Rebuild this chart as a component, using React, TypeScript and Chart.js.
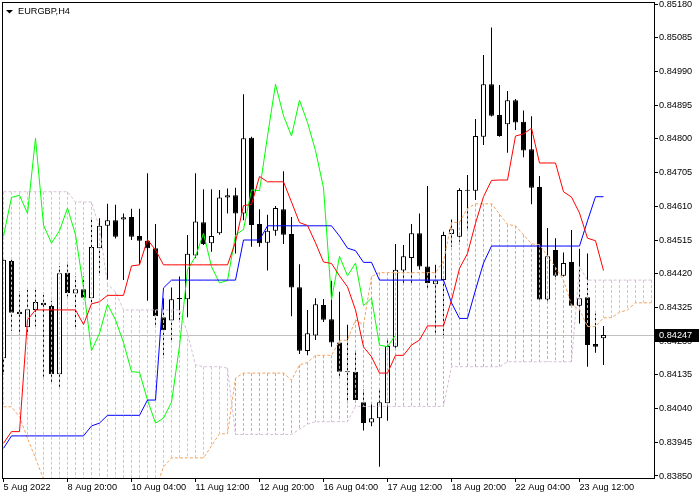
import React, { useEffect, useRef } from 'react';
import { Chart, registerables } from 'chart.js';

Chart.register(...registerables);

const symbolTitle = 'EURGBP,H4';
const timeLabels = ['5 Aug 2022', '8 Aug 20:00', '10 Aug 04:00', '11 Aug 12:00', '12 Aug 20:00', '16 Aug 04:00', '17 Aug 12:00', '18 Aug 20:00', '22 Aug 04:00', '23 Aug 12:00'];
const barsPerTimeLabel = 8;
const priceTicks = [0.8518, 0.85085, 0.8499, 0.84895, 0.848, 0.84705, 0.8461, 0.84515, 0.8442, 0.84325, 0.8423, 0.84135, 0.8404, 0.83945, 0.8385];
const lastPrice = 0.84247;

const opens = [
  0.84182, 0.84456, 0.84313, 0.84269, 0.84318, 0.84338, 0.84329, 0.84137, 0.84423, 0.84364,
  0.84376, 0.84351, 0.84492, 0.84555, 0.84571, 0.84573, 0.84580, 0.84526, 0.84513, 0.84492,
  0.84297, 0.84288, 0.84351, 0.84348, 0.84471, 0.84565, 0.84506, 0.84534, 0.84635, 0.84641,
  0.84590, 0.84803, 0.84560, 0.84507, 0.84541, 0.84602, 0.84532, 0.84382, 0.84202, 0.84246,
  0.84332, 0.84292, 0.84226, 0.84144, 0.84144, 0.84058, 0.84001, 0.84013, 0.84055, 0.84214,
  0.84429, 0.84464, 0.84534, 0.84440, 0.84390, 0.84402, 0.84532, 0.84524, 0.84655, 0.84654,
  0.84806, 0.84954, 0.84867, 0.84841, 0.84909, 0.84848, 0.84771, 0.84664, 0.84347, 0.84487,
  0.84414, 0.84453, 0.84330, 0.84354, 0.84222, 0.84238,
];
const highs = [
  0.84461, 0.84459, 0.84370, 0.84374, 0.84374, 0.84360, 0.84344, 0.84442, 0.84454, 0.84412,
  0.84412, 0.84576, 0.84576, 0.84617, 0.84614, 0.84590, 0.84603, 0.84603, 0.84703, 0.84560,
  0.84351, 0.84381, 0.84412, 0.84529, 0.84703, 0.84658, 0.84658, 0.84656, 0.84660, 0.84662,
  0.84926, 0.84806, 0.84602, 0.84586, 0.84611, 0.84709, 0.84580, 0.84447, 0.84318, 0.84351,
  0.84349, 0.84400, 0.84369, 0.84276, 0.84205, 0.84094, 0.84057, 0.84097, 0.84236, 0.84504,
  0.84501, 0.84560, 0.84590, 0.84667, 0.84445, 0.84538, 0.84573, 0.84661, 0.84698, 0.84856,
  0.85036, 0.85114, 0.84952, 0.84935, 0.84912, 0.84880, 0.84864, 0.84695, 0.84549, 0.84520,
  0.84480, 0.84543, 0.84490, 0.84477, 0.84308, 0.84273,
];
const lows = [
  0.84135, 0.84259, 0.84247, 0.84247, 0.84271, 0.84130, 0.84111, 0.84100, 0.84356, 0.84266,
  0.84346, 0.84338, 0.84421, 0.84402, 0.84519, 0.84402, 0.84515, 0.84445, 0.84344, 0.84276,
  0.84182, 0.84233, 0.84290, 0.84297, 0.84464, 0.84501, 0.84482, 0.84530, 0.84590, 0.84477,
  0.84571, 0.84496, 0.84496, 0.84429, 0.84527, 0.84504, 0.84300, 0.84194, 0.84190, 0.84233,
  0.84284, 0.84214, 0.84132, 0.84055, 0.84057, 0.83978, 0.83990, 0.83876, 0.84006, 0.84205,
  0.84393, 0.84393, 0.84431, 0.84374, 0.84252, 0.84247, 0.84496, 0.84510, 0.84543, 0.84628,
  0.84783, 0.84863, 0.84806, 0.84761, 0.84825, 0.84748, 0.84616, 0.84345, 0.84344, 0.84410,
  0.84412, 0.84329, 0.84280, 0.84158, 0.84197, 0.84163,
];
const closes = [
  0.84459, 0.84310, 0.84306, 0.84320, 0.84340, 0.84331, 0.84137, 0.84421, 0.84366, 0.84376,
  0.84352, 0.84495, 0.84555, 0.84571, 0.84524, 0.84579, 0.84524, 0.84513, 0.84492, 0.84300,
  0.84261, 0.84348, 0.84349, 0.84476, 0.84567, 0.84504, 0.84526, 0.84635, 0.84641, 0.84590,
  0.84802, 0.84557, 0.84506, 0.84541, 0.84605, 0.84530, 0.84381, 0.84203, 0.84252, 0.84334,
  0.84290, 0.84226, 0.84144, 0.84142, 0.84064, 0.83999, 0.84013, 0.84058, 0.84216, 0.84431,
  0.84469, 0.84534, 0.84440, 0.84394, 0.84401, 0.84529, 0.84545, 0.84656, 0.84654, 0.84808,
  0.84954, 0.84865, 0.84808, 0.84909, 0.84846, 0.84767, 0.84662, 0.84347, 0.84469, 0.84414,
  0.84450, 0.84330, 0.84351, 0.84219, 0.84214, 0.84247,
];

// Tenkan-sen (red)
const tenkan = [
  0.83942, 0.83975, 0.83975, 0.84290, 0.84318, 0.84318, 0.84318, 0.84318, 0.84318, 0.84318,
  0.84277, 0.84335, 0.84341, 0.84359, 0.84359, 0.84359, 0.84442, 0.84445, 0.84516, 0.84487,
  0.84445, 0.84445, 0.84445, 0.84445, 0.84445, 0.84445, 0.84445, 0.84445, 0.84445, 0.84509,
  0.84612, 0.84615, 0.84694, 0.84679, 0.84679, 0.84679, 0.84622, 0.84564, 0.84556, 0.84507,
  0.84453, 0.84449, 0.84414, 0.84383, 0.84318, 0.84214, 0.84186, 0.84140, 0.84140, 0.84190,
  0.84190, 0.84219, 0.84233, 0.84273, 0.84273, 0.84273, 0.84345, 0.84435, 0.84477, 0.84562,
  0.84637, 0.84683, 0.84684, 0.84684, 0.84808, 0.84814, 0.84830, 0.84732, 0.84732, 0.84732,
  0.84651, 0.84636, 0.84591, 0.84520, 0.84513, 0.84429,
];
// Kijun-sen (blue)
const kijun = [
  0.83928, 0.83963, 0.83963, 0.83963, 0.83963, 0.83963, 0.83963, 0.83963, 0.83963, 0.83963,
  0.83963, 0.83991, 0.83999, 0.84021, 0.84021, 0.84021, 0.84021, 0.84021, 0.84064, 0.84064,
  0.84380, 0.84402, 0.84402, 0.84402, 0.84402, 0.84402, 0.84402, 0.84402, 0.84402, 0.84402,
  0.84515, 0.84515, 0.84515, 0.84555, 0.84555, 0.84555, 0.84555, 0.84555, 0.84555, 0.84555,
  0.84555, 0.84555, 0.84526, 0.84492, 0.84485, 0.84452, 0.84452, 0.84402, 0.84402, 0.84402,
  0.84402, 0.84402, 0.84402, 0.84402, 0.84402, 0.84402, 0.84338, 0.84294, 0.84294, 0.84374,
  0.84450, 0.84498, 0.84498, 0.84498, 0.84498, 0.84498, 0.84498, 0.84498, 0.84498, 0.84498,
  0.84498, 0.84498, 0.84498, 0.84569, 0.84637, 0.84637,
];
// Chikou span (lime), plotted on bars 0..49
const chikou = [
  0.84526, 0.84635, 0.84641, 0.84590, 0.84802, 0.84557, 0.84506, 0.84541, 0.84605, 0.84530,
  0.84381, 0.84203, 0.84252, 0.84334, 0.84290, 0.84226, 0.84144, 0.84142, 0.84064, 0.83999,
  0.84013, 0.84058, 0.84216, 0.84431, 0.84469, 0.84534, 0.84440, 0.84394, 0.84401, 0.84529,
  0.84545, 0.84656, 0.84654, 0.84808, 0.84954, 0.84865, 0.84808, 0.84909, 0.84846, 0.84767,
  0.84662, 0.84347, 0.84469, 0.84414, 0.84450, 0.84330, 0.84351, 0.84219, 0.84214, 0.84247,
];
// Senkou span A (sandy brown), bars 0..81
const senkouA = [
  0.84045, 0.84045, 0.84017, 0.83956, 0.83900, 0.83842, 0.83805, 0.83782, 0.83782, 0.83782,
  0.83782, 0.83782, 0.83782, 0.83782, 0.83782, 0.83782, 0.83782, 0.83782, 0.83782, 0.83811,
  0.83876, 0.83901, 0.83901, 0.83901, 0.83901, 0.83901, 0.83935, 0.83969, 0.83969, 0.84126,
  0.84140, 0.84140, 0.84140, 0.84140, 0.84140, 0.84140, 0.84120, 0.84163, 0.84170, 0.84190,
  0.84190, 0.84190, 0.84231, 0.84233, 0.84290, 0.84276, 0.84412, 0.84423, 0.84423, 0.84423,
  0.84423, 0.84423, 0.84423, 0.84423, 0.84423, 0.84456, 0.84564, 0.84565, 0.84604, 0.84617,
  0.84617, 0.84617, 0.84588, 0.84559, 0.84555, 0.84530, 0.84504, 0.84502, 0.84470, 0.84438,
  0.84402, 0.84332, 0.84319, 0.84271, 0.84271, 0.84296, 0.84296, 0.84311, 0.84318, 0.84338,
  0.84338, 0.84338,
];
// Senkou span B (thistle), bars 0..81
const senkouB = [
  0.84651, 0.84651, 0.84651, 0.84651, 0.84651, 0.84651, 0.84651, 0.84651, 0.84651, 0.84622,
  0.84622, 0.84622, 0.84549, 0.84391, 0.84369, 0.84318, 0.84318, 0.84318, 0.84318, 0.84318,
  0.84318, 0.84318, 0.84318, 0.84252, 0.84163, 0.84158, 0.84158, 0.84158, 0.84154, 0.83967,
  0.83967, 0.83967, 0.83967, 0.83967, 0.83967, 0.83967, 0.83967, 0.83982, 0.83996, 0.84003,
  0.84003, 0.84003, 0.84003, 0.84003, 0.84046, 0.84046, 0.84046, 0.84046, 0.84046, 0.84046,
  0.84046, 0.84046, 0.84046, 0.84046, 0.84046, 0.84046, 0.84158, 0.84158, 0.84158, 0.84158,
  0.84158, 0.84158, 0.84158, 0.84172, 0.84172, 0.84172, 0.84172, 0.84172, 0.84172, 0.84172,
  0.84172, 0.84172, 0.84440, 0.84402, 0.84402, 0.84402, 0.84402, 0.84402, 0.84402, 0.84402,
  0.84402, 0.84402,
];

const FONT_FAMILY = '"Liberation Sans", Arial, sans-serif';
const FONT_SIZE = 9.2;
const SANDY = '#F4A460';
const THISTLE = '#D8BFD8';

export default function App() {
  const canvasRef = useRef<HTMLCanvasElement>(null);

  useEffect(() => {
    const canvas = canvasRef.current;
    if (!canvas) return;
    const ctx = canvas.getContext('2d')!;

    const toPoints = (arr: number[]) => arr.map((v, i) => ({ x: i, y: v }));
    const wickData = highs.map((h, i) => ({ x: i, y: [lows[i], h] }));
    const bodyData = opens.map((o, i) => ({ x: i, y: [o, closes[i]] }));
    const bodyFill = opens.map((o, i) => (closes[i] >= o ? '#ffffff' : '#000000'));

    // Kumo histogram: one dotted vertical per bar between span A and span B
    const kumoDatasets = senkouA.map((a, i) => {
      const b = senkouB[i];
      return {
        type: 'line',
        data: [
          { x: i, y: Math.max(a, b) },
          { x: i, y: Math.min(a, b) },
        ],
        borderColor: a >= b ? SANDY : THISTLE,
        borderWidth: 1,
        borderDash: [3, 2],
        pointRadius: 0,
        tension: 0,
        fill: false,
        order: 7,
      } as any;
    });

    const mt4Plugin = {
      id: 'mt4Decor',
      beforeDatasetsDraw(chart: any) {
        const { ctx: c, chartArea: a, scales } = chart;
        const y = Math.round(scales.y.getPixelForValue(lastPrice)) + 0.5;
        c.save();
        c.strokeStyle = '#C0C0C0';
        c.lineWidth = 1;
        c.beginPath();
        c.moveTo(a.left, y);
        c.lineTo(a.right, y);
        c.stroke();
        c.restore();
      },
      afterDraw(chart: any) {
        const { ctx: c, chartArea: a, scales } = chart;
        c.save();
        c.strokeStyle = '#000';
        c.lineWidth = 1;
        c.strokeRect(a.left + 0.5, a.top + 0.5, a.right - a.left, a.bottom - a.top);
        const y = Math.round(scales.y.getPixelForValue(lastPrice));
        c.fillStyle = '#000';
        c.fillRect(a.right + 1, y - 6, 44, 13);
        c.fillStyle = '#fff';
        c.font = `${FONT_SIZE}px ${FONT_FAMILY}`;
        c.textBaseline = 'middle';
        c.textAlign = 'left';
        c.fillText(lastPrice.toFixed(5), a.right + 5, y + 0.5);
        c.fillStyle = '#000';
        c.beginPath();
        c.moveTo(6, 10);
        c.lineTo(13, 10);
        c.lineTo(9.5, 13.5);
        c.closePath();
        c.fill();
        c.textBaseline = 'alphabetic';
        c.fillText(symbolTitle, 18, 14);
        c.restore();
      },
    };

    const tickFont = { family: FONT_FAMILY, size: FONT_SIZE };

    const chart = new Chart(ctx, {
      type: 'bar',
      data: {
        datasets: [
          { type: 'bar', data: wickData as any, backgroundColor: '#000', barThickness: 1, grouped: false, borderWidth: 0, inflateAmount: 0, order: 10 } as any,
          { type: 'bar', data: bodyData as any, backgroundColor: bodyFill, borderColor: '#000', borderWidth: 1, borderSkipped: false, barThickness: 5, grouped: false, minBarLength: 1, inflateAmount: 0, order: 9 } as any,
          ...kumoDatasets,
          { type: 'line', data: toPoints(senkouA) as any, borderColor: SANDY, borderWidth: 1, borderDash: [3, 2], pointRadius: 0, tension: 0, fill: false, order: 6 } as any,
          { type: 'line', data: toPoints(senkouB) as any, borderColor: THISTLE, borderWidth: 1, borderDash: [3, 2], pointRadius: 0, tension: 0, fill: false, order: 5 } as any,
          { type: 'line', data: toPoints(chikou) as any, borderColor: '#00FF00', borderWidth: 1, pointRadius: 0, tension: 0, fill: false, order: 3 } as any,
          { type: 'line', data: toPoints(kijun) as any, borderColor: '#0000FF', borderWidth: 1, pointRadius: 0, tension: 0, fill: false, order: 2 } as any,
          { type: 'line', data: toPoints(tenkan) as any, borderColor: '#FF0000', borderWidth: 1, pointRadius: 0, tension: 0, fill: false, order: 1 } as any,
        ],
      },
      options: {
        animation: false,
        responsive: false,
        maintainAspectRatio: false,
        devicePixelRatio: 1,
        events: [],
        layout: { padding: { left: 2, top: 2, right: 0, bottom: 0 } },
        plugins: { legend: { display: false }, tooltip: { enabled: false }, title: { display: false } },
        scales: {
          x: {
            type: 'linear',
            min: -0.1875,
            max: 81.3125,
            offset: false,
            grid: { display: true, drawOnChartArea: false, drawTicks: true, tickLength: 4, color: '#000', tickColor: '#000', offset: false },
            border: { display: false },
            ticks: {
              autoSkip: false,
              maxRotation: 0,
              minRotation: 0,
              align: 'start',
              padding: 0,
              color: '#000',
              font: tickFont,
              callback: (v: any) => timeLabels[Math.round(Number(v) / barsPerTimeLabel)] ?? '',
            },
            afterBuildTicks: (s: any) => {
              s.ticks = timeLabels.map((_, k) => ({ value: k * barsPerTimeLabel }));
            },
            afterFit: (s: any) => {
              s.height = 22;
              s.paddingLeft = 0;
              s.paddingRight = 0;
            },
          } as any,
          y: {
            type: 'linear',
            position: 'right',
            min: 0.8384436,
            max: 0.8518564,
            beginAtZero: false,
            grid: { display: true, drawOnChartArea: false, drawTicks: true, tickLength: 4, color: '#000', tickColor: '#000' },
            border: { display: false },
            ticks: {
              padding: 1,
              color: '#000',
              font: tickFont,
              callback: (v: any) => Number(v).toFixed(5),
            },
            afterBuildTicks: (s: any) => {
              s.ticks = priceTicks.map((v) => ({ value: v }));
            },
            afterFit: (s: any) => {
              s.width = 46;
              s.paddingTop = 0;
              s.paddingBottom = 0;
            },
          } as any,
        },
      },
      plugins: [mt4Plugin],
    });

    return () => chart.destroy();
  }, []);

  return (
    <div style={{ position: 'absolute', left: 0, top: 0, width: 700, height: 500, background: '#fff' }}>
      <canvas ref={canvasRef} width={700} height={500} style={{ width: 700, height: 500, display: 'block' }} />
    </div>
  );
}
